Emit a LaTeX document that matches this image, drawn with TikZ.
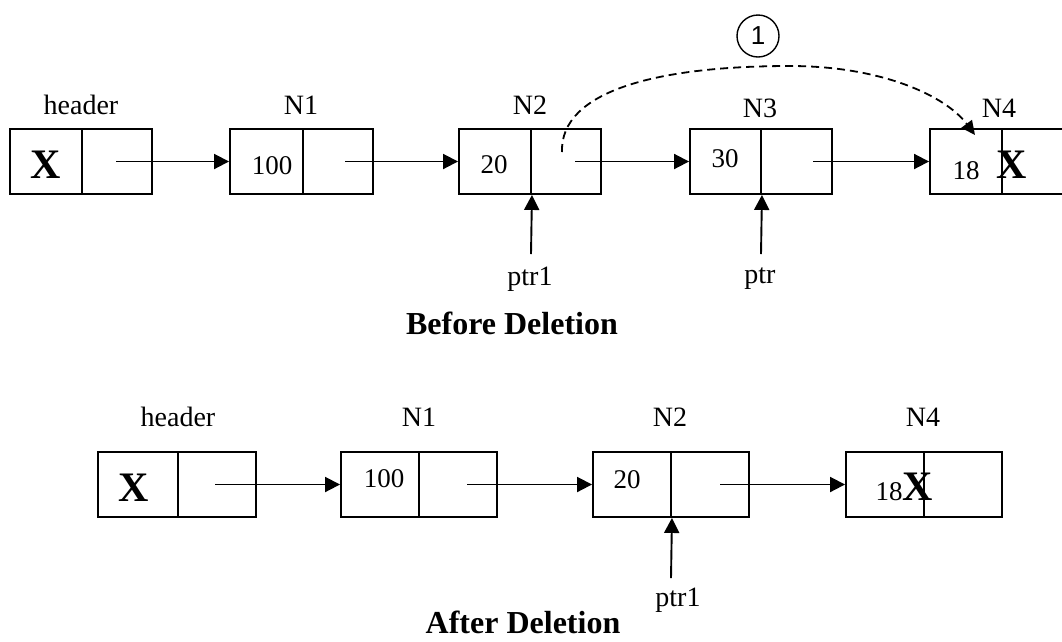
\documentclass[tikz,border=0pt]{standalone}
\usepackage{fontspec}
\setmainfont{Liberation Serif}
\newfontfamily\circfont{Liberation Sans}
\usetikzlibrary{arrows.meta}
\begin{document}
\begin{tikzpicture}[x=1pt,y=-1pt,
  cell/.style={draw, line width=1.9pt, minimum height=65pt, inner sep=0pt},
  lbl/.style={inner sep=0pt, font=\fontsize{28}{30}\selectfont},
  num/.style={inner sep=0pt, font=\fontsize{27}{30}\selectfont},
  bigx/.style={inner sep=0pt, font=\fontsize{42}{44}\selectfont\bfseries},
  ttl/.style={inner sep=0pt, font=\fontsize{32}{34}\selectfont\bfseries},
  arr/.style={line width=1.9pt, -{Triangle[length=15pt,width=15pt]}},
  darr/.style={line width=1.8pt, dash pattern=on 8pt off 5pt, -{Triangle[length=14pt,width=13pt]}},
]
\useasboundingbox (0,0) rectangle (1062,641);
\clip (0,0) rectangle (1062,641);

% ---------- Before Deletion ----------
\node[cell, minimum width=72pt] (thL) at (46,161.5) {};
\node[cell, minimum width=70pt] (thR) at (117,161.5) {};
\node[cell, minimum width=73pt] (t1L) at (266.5,161.5) {};
\node[cell, minimum width=70pt] (t1R) at (338,161.5) {};
\node[cell, minimum width=72pt] (t2L) at (495,161.5) {};
\node[cell, minimum width=70pt] (t2R) at (566,161.5) {};
\node[cell, minimum width=71pt] (t3L) at (725.5,161.5) {};
\node[cell, minimum width=71pt] (t3R) at (796.5,161.5) {};
\node[cell, minimum width=72pt] (t4L) at (966,161.5) {};
\node[cell, minimum width=72pt] (t4R) at (1038,161.5) {};

\node[lbl] (thlab) at (81,105) {header};
\node[lbl] (t1lab) at (301,105) {N1};
\node[lbl] (t2lab) at (530,105) {N2};
\node[lbl] (t3lab) at (760,108) {N3};
\node[lbl] (t4lab) at (999,108) {N4};

\node[bigx] (thx) at (46,165) {X};
\node[num] (t1v) at (272,166) {100};
\node[num] (t2v) at (494,165) {20};
\node[num] (t3v) at (725,159) {30};
\node[num] (t4v) at (966,171) {18};
\node[bigx] (t4x) at (1012,165) {X};

\coordinate (ths) at (116,161.5);
\coordinate (t1s) at (345,161.5);
\coordinate (t2s) at (575,161.5);
\coordinate (t3s) at (813,161.5);
\draw[arr] (ths) -- (t1L.west);
\draw[arr] (t1s) -- (t2L.west);
\draw[arr] (t2s) -- (t3L.west);
\draw[arr] (t3s) -- (t4L.west);

\coordinate (tp1) at (531,254);
\coordinate (tp) at (761,254);
\draw[arr] (tp1) -- (t2L.south east);
\draw[arr] (tp) -- (t3L.south east);
\node[lbl] (tp1lab) at (530,279) {ptr1};
\node[lbl] (tplab) at (760,279) {ptr};

\coordinate (ds) at (562,152);
\coordinate (dp) at (790,66);
\coordinate (de) at (975,135);
\draw[darr] (ds) .. controls (560,90) and (660,66) .. (dp) .. controls (880,66) and (945,95) .. (de);
\node[draw, circle, line width=1.4pt, minimum size=42pt, inner sep=0pt,
      font=\circfont\fontsize{26}{28}\selectfont] (c1) at (758,36) {1};

\node[ttl] (before) at (512,323) {Before Deletion};

% ---------- After Deletion ----------
\node[cell, minimum width=80pt] (bhL) at (138,484.5) {};
\node[cell, minimum width=78pt] (bhR) at (217,484.5) {};
\node[cell, minimum width=78pt] (b1L) at (380,484.5) {};
\node[cell, minimum width=78pt] (b1R) at (458,484.5) {};
\node[cell, minimum width=78pt] (b2L) at (632,484.5) {};
\node[cell, minimum width=78pt] (b2R) at (710,484.5) {};
\node[cell, minimum width=78pt] (b4L) at (885,484.5) {};
\node[cell, minimum width=78pt] (b4R) at (963,484.5) {};

\node[lbl] (bhlab) at (178,417) {header};
\node[lbl] (b1lab) at (419,417) {N1};
\node[lbl] (b2lab) at (670,417) {N2};
\node[lbl] (b4lab) at (923,417) {N4};

\node[bigx] (bhx) at (134,488) {X};
\node[num] (b1v) at (384,479) {100};
\node[num] (b2v) at (627,480) {20};
\node[num] (b4v) at (889,492) {18};
\node[bigx] (b4x) at (918,487) {X};

\coordinate (bhs) at (215,484.5);
\coordinate (b1s) at (467,484.5);
\coordinate (b2s) at (720,484.5);
\draw[arr] (bhs) -- (b1L.west);
\draw[arr] (b1s) -- (b2L.west);
\draw[arr] (b2s) -- (b4L.west);

\coordinate (bp1) at (671,578);
\draw[arr] (bp1) -- (b2L.south east);
\node[lbl] (bp1lab) at (678,600) {ptr1};

\node[ttl] (after) at (523,622) {After Deletion};
\end{tikzpicture}
\end{document}
